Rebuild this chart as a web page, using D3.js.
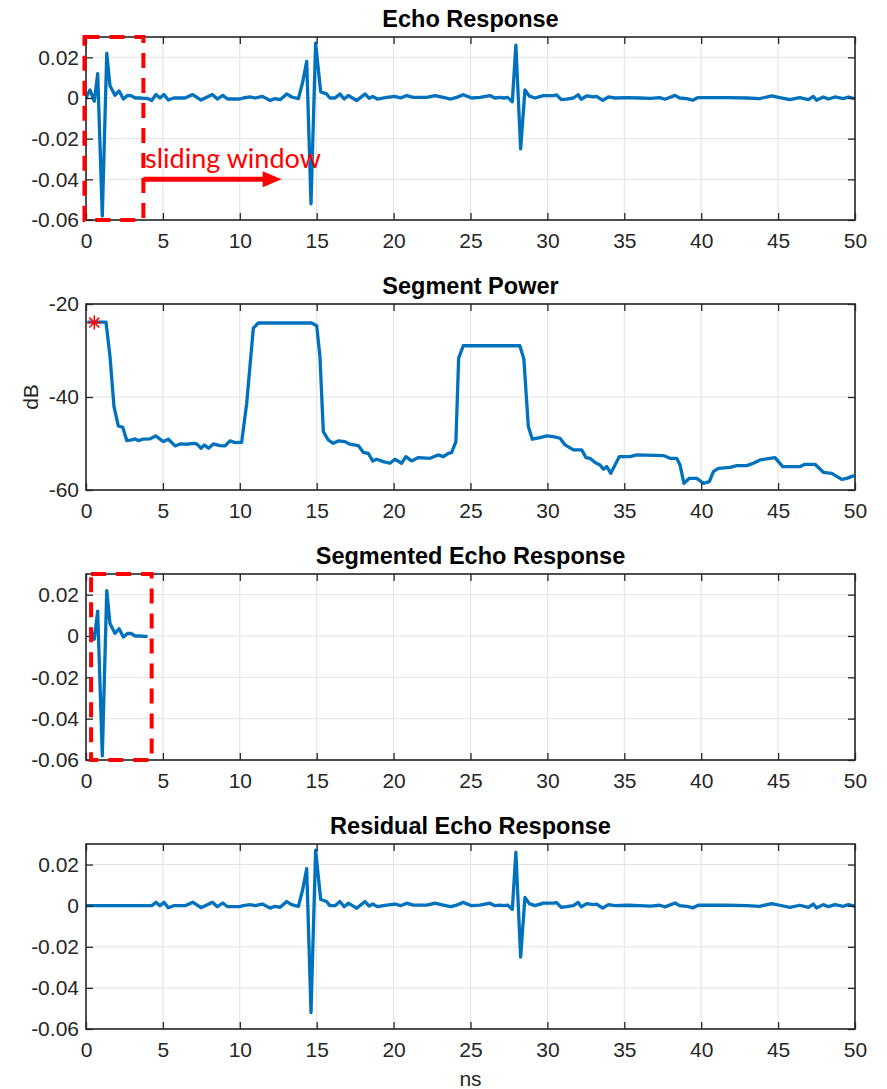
<!DOCTYPE html>
<html>
<head>
<meta charset="utf-8" />
<title>Echo Segmentation</title>
<script src="https://d3js.org/d3.v7.min.js"></script>
<style>
  body { margin: 0; background: #fff; }
  svg { font-family: "Liberation Sans", Arial, Helvetica, sans-serif; background: #fff; }
  .axis text { font-size: 21px; fill: #262626; }
  .axis path { display: none; }
  .axis line { stroke: #262626; stroke-width: 1.3; }
  .grid line { stroke: #e2e2e2; stroke-width: 1; }
  .frame { fill: none; stroke: #262626; stroke-width: 1.6; }
  .trace { fill: none; stroke: #0072bd; stroke-width: 3.3; stroke-linejoin: round; }
  .title { font-size: 23.5px; font-weight: bold; fill: #000; text-anchor: middle; }
  .label { font-size: 21px; fill: #262626; text-anchor: middle; }
  .window { fill: none; stroke: #ff0000; stroke-width: 4; stroke-dasharray: 15, 10; }
</style>
</head>
<body>
<div id="chart"></div>
<script>
// echo response: sample time (ns) and amplitude
const echoT = [0, 0.26, 0.54, 0.76, 1.06, 1.35, 1.56, 1.88, 2.15, 2.43, 2.71, 2.93, 3.2, 3.5, 3.8, 4.0,
  4.27, 4.55, 4.81, 5.07, 5.35, 5.7, 6.1, 6.44, 6.94, 7.48, 8.22, 8.54, 8.89, 9.21, 9.6, 10.0,
  10.23, 10.66, 10.99, 11.47, 11.97, 12.29, 12.62, 13.05, 13.37, 13.81, 14.08, 14.35, 14.63, 14.93,
  15.26, 15.64, 15.86, 16.19, 16.51, 16.79, 17.05, 17.33, 17.6, 18.14, 18.42, 18.64, 18.94, 19.55,
  20.09, 20.46, 20.85, 21.28, 22.15, 22.69, 23.23, 23.71, 24.1, 24.53, 25.07, 25.61, 26.26, 26.59,
  26.91, 27.17, 27.41, 27.72, 27.95, 28.26, 28.54, 28.82, 29.19, 29.73, 30.38, 30.6, 30.9, 31.25,
  31.69, 32.0, 32.2, 32.55, 32.99, 33.2, 33.6, 33.96, 34.4, 35.2, 36.0, 36.7, 37.3, 37.65, 38.3,
  38.6, 39.06, 39.45, 39.8, 40.8, 41.66, 42.96, 43.8, 44.58, 45.1, 45.77, 46.4, 46.97, 47.29, 47.5,
  47.94, 48.27, 48.7, 49.24, 49.57, 50.0];
const echoV = [0, 0.004, -0.0016, 0.012, -0.058, 0.022, 0.006, 0.0013, 0.0035, -0.0005, 0.0013, 0.0012, 0, 0, -0.0002, -0.0002,
  -0.0012, 0.0017, 0, 0.0017, -0.001, 0, 0, 0, 0.0017, -0.001, 0.0017, -0.0005, 0.0013, -0.0005, -0.0005, -0.0005,
  0, 0.0005, 0, 0.0008, -0.0012, -0.0003, -0.0008, 0.002, 0.0005, -0.0003, 0.0075, 0.018, -0.052, 0.027,
  0.003, 0.002, 0, 0, 0.002, -0.0005, 0.0012, 0, -0.0013, 0.002, -0.0002, 0.0008, -0.0005, 0.0003,
  0.0008, 0, 0.0012, 0.0003, 0.0003, 0.0012, 0.0003, -0.0005, 0.0003, 0.0016, 0, 0.0003, 0.0012, 0,
  0.0003, 0, 0.0003, -0.0018, 0.026, -0.025, 0.004, 0.001, 0, 0.0012, 0.0012, 0.0015, -0.0008, -0.0005,
  0, 0.0016, -0.0006, 0.001, 0.0005, 0.0008, -0.0012, 0.0005, 0, 0.0002, 0, -0.0002, 0.0002, -0.0006, 0.0013,
  0, -0.0003, -0.0011, 0.0002, 0.0002, 0.0002, 0, -0.0003, 0.001, 0.0002, -0.0008, 0.0002, -0.0008, 0.0008, -0.0011,
  0.0005, -0.0005, 0.0005, -0.0003, 0.0005, -0.0003];

// sliding window power: time (ns) and level (dB)
const powerT = [0.09, 1.3, 1.56, 1.82, 2.1, 2.39, 2.65, 2.97, 3.19, 3.4, 3.69, 4.16, 4.53, 5.03, 5.36, 5.79,
  6.11, 6.55, 6.98, 7.2, 7.48, 7.7, 7.96, 8.28, 8.71, 9.04, 9.36, 9.69, 10.12, 10.45, 10.88, 11.2,
  14.67, 15.0, 15.21, 15.43, 15.75, 16.08, 16.4, 16.84, 17.16, 17.7, 18.03, 18.35, 18.64, 18.9, 19.33,
  19.76, 20.09, 20.52, 20.8, 21.17, 21.61, 22.36, 22.9, 23.23, 23.56, 23.77, 24.05, 24.23, 24.53,
  28.21, 28.47, 28.76, 29.02, 29.52, 29.95, 30.39, 30.82, 31.15, 31.69, 32.23, 32.51, 32.77, 33.1,
  33.42, 33.64, 33.86, 34.12, 34.68, 35.37, 35.81, 37.54, 37.97, 38.41, 38.62, 38.88, 39.23, 39.71,
  40.14, 40.53, 40.79, 41.12, 41.88, 42.31, 42.96, 43.39, 43.83, 44.26, 44.8, 45.3, 45.78, 46.43,
  46.75, 47.4, 47.94, 48.49, 49.14, 49.46, 49.94];
const powerDb = [-23.88, -23.88, -31.27, -42.05, -46.21, -46.5, -49.37, -49.23, -49.01, -49.37, -49.08, -49.01, -48.37, -49.59, -49.08, -50.52,
  -50.09, -50.16, -49.95, -50.09, -51.02, -50.31, -51.02, -50.09, -50.45, -50.52, -49.44, -49.8, -49.73, -41.33, -25.17, -24.09,
  -24.09, -24.67, -31.27, -47.43, -49.23, -49.95, -49.44, -49.59, -50.16, -50.45, -51.89, -52.1, -53.75, -53.39, -53.9,
  -54.25, -53.39, -54.25, -52.82, -53.75, -53.03, -53.18, -52.46, -52.82, -52.1, -51.96, -49.59, -31.63, -28.98,
  -28.98, -31.85, -46.36, -49.08, -48.73, -48.37, -48.51, -48.87, -50.31, -51.38, -51.38, -53.03, -53.18, -54.11,
  -54.61, -55.55, -54.97, -56.41, -52.82, -52.82, -52.46, -52.6, -53.18, -53.18, -54.61, -58.56, -57.49, -57.49,
  -58.56, -58.2, -56.05, -55.33, -55.12, -54.76, -54.76, -54.25, -53.54, -53.32, -53.03, -54.97, -54.97, -54.97,
  -54.47, -54.47, -56.19, -56.41, -57.7, -57.49, -56.91];

const xTicks = [0, 5, 10, 15, 20, 25, 30, 35, 40, 45, 50];
const ampTicks = [-0.06, -0.04, -0.02, 0, 0.02];
const dbTicks = [-60, -40, -20];
const titles = ["Echo Response", "Segment Power", "Segmented Echo Response", "Residual Echo Response"];

// window kept in the segmented echo, and where the residual starts (ns)
const segWindow = [0.2, 4.1];
const residualStart = 4.4;
// annotation positions in data units
const box1 = [-0.1, 3.73];
const box3 = [0.33, 4.27];
const arrowSpan = [3.73, 12.72];
const arrowLevel = -0.04;
const currentPower = [0.54, -24.0];

const width = 887, height = 1089;
const left = 86, right = 855;

const svg = d3.select("#chart").append("svg")
  .attr("width", width).attr("height", height);

const x = d3.scaleLinear().domain([0, 50]).range([left, right]);

const echo = echoT.map((t, i) => ({ t, v: echoV[i] }));
const segmented = echo.filter(d => d.t >= segWindow[0] && d.t <= segWindow[1]);
const residual = echo.map(d => ({ t: d.t, v: d.t < residualStart ? 0 : d.v }));
const power = powerT.map((t, i) => ({ t, v: powerDb[i] }));

const ampFmt = d => d === 0 ? "0" : d.toFixed(2);

const panels = [
  { top: 37, bottom: 220, domain: [-0.06, 0.03], ticks: ampTicks, fmt: ampFmt, data: echo },
  { top: 304, bottom: 490, domain: [-60, -20], ticks: dbTicks, fmt: d => String(d), data: power },
  { top: 574, bottom: 760, domain: [-0.06, 0.03], ticks: ampTicks, fmt: ampFmt, data: segmented },
  { top: 844, bottom: 1029, domain: [-0.06, 0.03], ticks: ampTicks, fmt: ampFmt, data: residual }
];

const axes = panels.map((p, i) => {
  const y = d3.scaleLinear().domain(p.domain).range([p.bottom, p.top]);
  const g = svg.append("g");

  // grid
  const grid = g.append("g").attr("class", "grid");
  grid.selectAll(".gx").data(xTicks).join("line")
    .attr("x1", d => x(d)).attr("x2", d => x(d))
    .attr("y1", p.top).attr("y2", p.bottom);
  grid.selectAll(".gy").data(p.ticks).join("line")
    .attr("x1", left).attr("x2", right)
    .attr("y1", d => y(d)).attr("y2", d => y(d));

  // trace
  g.append("clipPath").attr("id", "clip" + i)
    .append("rect").attr("x", left).attr("y", p.top - 2)
    .attr("width", right - left).attr("height", p.bottom - p.top + 4);
  const line = d3.line().x(d => x(d.t)).y(d => y(d.v));
  g.append("path").datum(p.data)
    .attr("class", "trace")
    .attr("clip-path", `url(#clip${i})`)
    .attr("d", line);

  // frame and ticks on all four sides
  g.append("rect").attr("class", "frame")
    .attr("x", left).attr("y", p.top)
    .attr("width", right - left).attr("height", p.bottom - p.top);

  g.append("g").attr("class", "axis")
    .attr("transform", `translate(0,${p.bottom})`)
    .call(d3.axisBottom(x).tickValues(xTicks).tickSizeInner(-7).tickSizeOuter(0).tickPadding(13));
  g.append("g").attr("class", "axis")
    .attr("transform", `translate(0,${p.top})`)
    .call(d3.axisTop(x).tickValues(xTicks).tickSizeInner(-7).tickSizeOuter(0).tickFormat(""));
  g.append("g").attr("class", "axis")
    .attr("transform", `translate(${left},0)`)
    .call(d3.axisLeft(y).tickValues(p.ticks).tickSizeInner(-7).tickSizeOuter(0).tickPadding(7).tickFormat(p.fmt));
  g.append("g").attr("class", "axis")
    .attr("transform", `translate(${right},0)`)
    .call(d3.axisRight(y).tickValues(p.ticks).tickSizeInner(-7).tickSizeOuter(0).tickFormat(""));

  g.append("text").attr("class", "title")
    .attr("x", (left + right) / 2).attr("y", p.top - 10)
    .text(titles[i]);

  return { g, y };
});

// dashed window boxes
const drawBox = (a, span) => {
  a.g.append("rect").attr("class", "window")
    .attr("x", x(span[0])).attr("y", a.y(0.03))
    .attr("width", x(span[1]) - x(span[0]))
    .attr("height", a.y(-0.06) - a.y(0.03));
};
drawBox(axes[0], box1);
drawBox(axes[2], box3);

// sliding window arrow and label
const a0 = axes[0];
const tip = x(arrowSpan[1]), ay = a0.y(arrowLevel);
a0.g.append("line")
  .attr("x1", x(arrowSpan[0])).attr("x2", tip - 16)
  .attr("y1", ay).attr("y2", ay)
  .attr("stroke", "#ff0000").attr("stroke-width", 5);
a0.g.append("path")
  .attr("d", `M${tip},${ay} L${tip - 19},${ay - 8} L${tip - 19},${ay + 8} Z`)
  .attr("fill", "#ff0000");
a0.g.append("text")
  .attr("x", x(3.84)).attr("y", a0.y(-0.0342))
  .attr("fill", "#ff0000")
  .style("font-family", "Lato, 'Open Sans', sans-serif")
  .style("font-size", "27px")
  .text("sliding window");

// current segment power marker
const asterisk = {
  draw(ctx, size) {
    const r = Math.sqrt(size) / 2, d = r * 0.707;
    ctx.moveTo(-r, 0); ctx.lineTo(r, 0);
    ctx.moveTo(0, -r); ctx.lineTo(0, r);
    ctx.moveTo(-d, -d); ctx.lineTo(d, d);
    ctx.moveTo(-d, d); ctx.lineTo(d, -d);
  }
};
axes[1].g.append("path")
  .attr("transform", `translate(${x(currentPower[0])},${axes[1].y(currentPower[1])})`)
  .attr("d", d3.symbol().type(asterisk).size(196)())
  .attr("fill", "none").attr("stroke", "#ff0000").attr("stroke-width", 1.5);

// axis labels
svg.append("text").attr("class", "label")
  .attr("transform", `translate(38,${(panels[1].top + panels[1].bottom) / 2}) rotate(-90)`)
  .text("dB");
svg.append("text").attr("class", "label")
  .attr("x", (left + right) / 2).attr("y", 1086)
  .text("ns");
</script>
</body>
</html>
